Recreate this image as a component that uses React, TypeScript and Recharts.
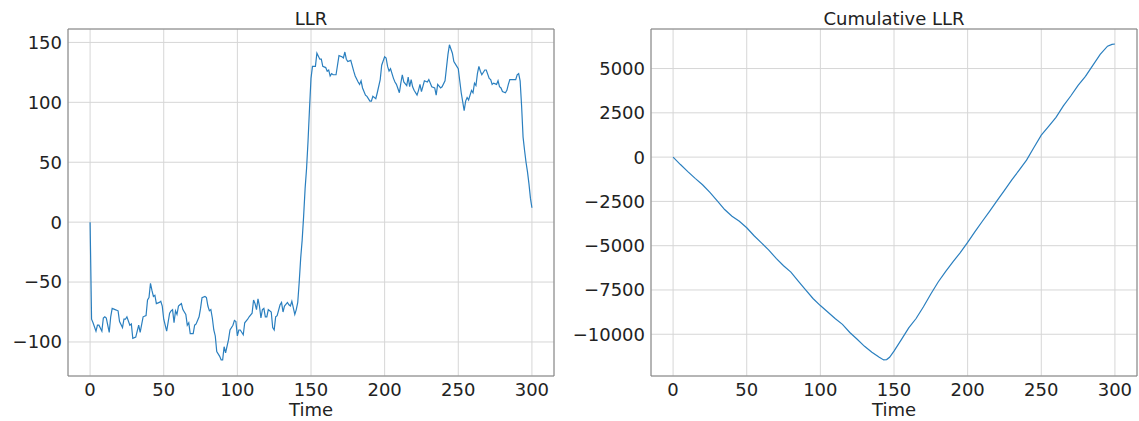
import {
  LineChart,
  Line,
  XAxis,
  YAxis,
  CartesianGrid,
  ReferenceArea,
  Label,
} from 'recharts'

// LLR per time step
const llrTime = [
  0, 1, 2, 4, 5, 6, 8, 9, 10, 11,
  13, 14, 15, 17, 19, 20, 22, 23, 24, 25,
  27, 28, 29, 31, 33, 34, 36, 38, 39, 40,
  41, 42, 43, 44, 45, 47, 48, 49, 50, 52,
  54, 55, 56, 57, 58, 59, 60, 61, 62, 63,
  65, 66, 67, 68, 70, 71, 72, 74, 75, 76,
  78, 79, 80, 81, 82, 83, 84, 85, 86, 88,
  89, 90, 91, 92, 94, 95, 97, 98, 99, 100,
  101, 102, 104, 105, 107, 108, 110, 111, 112, 113,
  114, 115, 116, 117, 118, 119, 120, 121, 123, 124,
  125, 126, 127, 129, 130, 131, 132, 134, 135, 136,
  137, 139, 140, 141, 142, 143, 144, 145, 146, 147,
  148, 149, 150, 151, 153, 154, 156, 157, 158, 160,
  161, 162, 163, 164, 165, 167, 169, 171, 172, 173,
  174, 175, 177, 179, 180, 182, 183, 184, 185, 187,
  188, 190, 191, 192, 194, 195, 197, 198, 200, 201,
  202, 203, 204, 206, 207, 208, 210, 211, 212, 213,
  215, 216, 217, 218, 219, 220, 222, 223, 224, 225,
  227, 229, 230, 232, 234, 235, 236, 238, 239, 241,
  242, 243, 244, 246, 247, 249, 250, 251, 252, 254,
  255, 256, 257, 259, 260, 261, 262, 263, 264, 265,
  266, 268, 269, 271, 272, 273, 274, 276, 277, 278,
  279, 280, 282, 283, 284, 285, 287, 289, 290, 291,
  292, 293, 294, 295, 296, 297, 298, 299, 300,
]

const llrValues = [
  0, -81, -84, -91, -86, -86, -91, -80, -79, -80,
  -92, -79, -72, -73, -74, -83, -88, -81, -81, -79,
  -86, -85, -97, -96, -86, -92, -79, -78, -65, -63,
  -51, -57, -62, -61, -68, -67, -66, -70, -81, -91,
  -76, -74, -73, -84, -74, -77, -70, -69, -68, -73,
  -77, -86, -84, -93, -93, -86, -85, -79, -72, -63,
  -62, -63, -70, -74, -73, -80, -90, -95, -108, -112,
  -115, -115, -104, -109, -98, -90, -86, -82, -83, -95,
  -90, -90, -94, -84, -81, -79, -76, -65, -68, -73,
  -64, -70, -80, -73, -72, -79, -79, -73, -75, -88,
  -90, -79, -78, -69, -67, -75, -70, -67, -69, -70,
  -66, -77, -73, -67, -50, -30, -15, 5, 28, 45,
  68, 95, 120, 130, 130, 141, 136, 136, 130, 129,
  126, 127, 122, 124, 123, 123, 139, 138, 137, 142,
  136, 134, 135, 126, 122, 117, 115, 118, 112, 106,
  105, 101, 101, 105, 103, 108, 119, 131, 138, 137,
  130, 126, 128, 120, 117, 115, 108, 116, 123, 117,
  114, 121, 113, 119, 113, 110, 106, 110, 115, 109,
  118, 117, 119, 113, 112, 106, 115, 112, 113, 118,
  129, 140, 148, 141, 134, 130, 128, 118, 108, 93,
  101, 104, 102, 110, 108, 116, 114, 124, 130, 126,
  123, 127, 127, 120, 119, 115, 116, 115, 118, 113,
  112, 109, 108, 110, 115, 119, 119, 119, 123, 124,
  118, 97, 71, 60, 50, 42, 32, 20, 12,
]

// running total of the LLR
const cumTime = [
  0, 5, 10, 15, 20, 25, 30, 35, 40, 45,
  50, 55, 60, 65, 70, 75, 80, 85, 90, 95,
  100, 105, 110, 115, 120, 125, 130, 135, 140, 143,
  145, 147, 150, 155, 160, 165, 170, 175, 180, 185,
  190, 195, 200, 205, 210, 215, 220, 225, 230, 235,
  240, 245, 250, 255, 260, 265, 270, 275, 280, 285,
  290, 295, 298, 300,
]

const cumValues = [
  0, -420, -820, -1200, -1560, -1990, -2470, -2960, -3340, -3620,
  -3990, -4440, -4840, -5250, -5720, -6130, -6490, -7000, -7500, -7980,
  -8380, -8740, -9110, -9440, -9900, -10280, -10680, -11010, -11300, -11450,
  -11430, -11300, -10950, -10300, -9640, -9110, -8450, -7730, -7050, -6460,
  -5920, -5390, -4810, -4210, -3620, -3050, -2460, -1880, -1290, -730,
  -170, 540, 1240, 1740, 2240, 2890, 3450, 4050, 4560, 5180,
  5800, 6260, 6360, 6384,
]

const timeTicks = [0, 50, 100, 150, 200, 250, 300]
const llrTicks = [-100, -50, 0, 50, 100, 150]
const cumTicks = [-10000, -7500, -5000, -2500, 0, 2500, 5000]

const FONT = "'DejaVu Sans', sans-serif"
const TEXT = '#222'
const LINE = '#2a7fbf'

const fmt = (v: number) => (v < 0 ? `\u2212${Math.abs(v)}` : `${v}`)

interface PanelProps {
  left: number
  width: number
  yAxisWidth: number
  marginRight: number
  title: string
  data: { t: number; v: number }[]
  yDomain: [number, number]
  yTicks: number[]
}

const PLOT_TOP = 29
const PLOT_H = 347
const X_DOMAIN: [number, number] = [-15, 315]

function Panel({ left, width, yAxisWidth, marginRight, title, data, yDomain, yTicks }: PanelProps) {
  const plotW = width - yAxisWidth - marginRight
  return (
    <div style={{ position: 'absolute', left, top: 0, width, height: 421 }}>
      <div
        style={{
          position: 'absolute',
          left: yAxisWidth,
          width: plotW,
          top: 10,
          textAlign: 'center',
          fontSize: 18,
          lineHeight: '18px',
          color: TEXT,
        }}
      >
        {title}
      </div>
      <LineChart
        width={width}
        height={421}
        data={data}
        margin={{ top: PLOT_TOP, right: marginRight, bottom: 0, left: 0 }}
      >
        <CartesianGrid stroke="#d6d6d6" strokeWidth={1} />
        <XAxis
          dataKey="t"
          type="number"
          domain={X_DOMAIN}
          allowDataOverflow
          ticks={timeTicks}
          tickFormatter={fmt}
          tick={{ fontSize: 18, fill: TEXT }}
          tickSize={0}
          tickMargin={7}
          axisLine={false}
          height={421 - PLOT_TOP - PLOT_H}
        >
          <Label value="Time" position="insideBottom" offset={5} fill={TEXT} fontSize={18} />
        </XAxis>
        <YAxis
          type="number"
          domain={yDomain}
          allowDataOverflow
          ticks={yTicks}
          tickFormatter={fmt}
          tick={{ fontSize: 18, fill: TEXT }}
          tickSize={0}
          tickMargin={6}
          axisLine={false}
          width={yAxisWidth}
        />
        <ReferenceArea
          x1={X_DOMAIN[0]}
          x2={X_DOMAIN[1]}
          y1={yDomain[0]}
          y2={yDomain[1]}
          fill="none"
          stroke="#808080"
          strokeWidth={1}
        />
        <Line
          type="linear"
          dataKey="v"
          stroke={LINE}
          strokeWidth={1.2}
          dot={false}
          isAnimationActive={false}
        />
      </LineChart>
    </div>
  )
}

export default function App() {
  const llrData = llrTime.map((t, i) => ({ t, v: llrValues[i] }))
  const cumData = cumTime.map((t, i) => ({ t, v: cumValues[i] }))

  return (
    <div
      style={{
        position: 'absolute',
        left: 0,
        top: 0,
        width: 1139,
        height: 421,
        background: '#fff',
        fontFamily: FONT,
      }}
    >
      <Panel
        left={0}
        width={560}
        yAxisWidth={68}
        marginRight={6}
        title="LLR"
        data={llrData}
        yDomain={[-128.4, 161.2]}
        yTicks={llrTicks}
      />
      <Panel
        left={560}
        width={579}
        yAxisWidth={91}
        marginRight={2}
        title="Cumulative LLR"
        data={cumData}
        yDomain={[-12356, 7232]}
        yTicks={cumTicks}
      />
    </div>
  )
}
